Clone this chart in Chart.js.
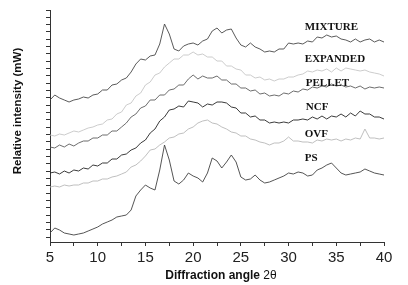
<!DOCTYPE html>
<html>
<head>
<meta charset="utf-8">
<script src="https://cdn.jsdelivr.net/npm/chart.js@4"></script>
<style>
  body { margin: 0; background: #fff; }
  canvas { display: block; }
</style>
</head>
<body>
<canvas id="xrd" width="408" height="285"></canvas>
<script>
// 2theta positions (degrees)
const angles = [
  5, 5.5, 6, 6.5, 7, 7.5, 8, 8.5, 9, 9.5,
  10, 10.5, 11, 11.5, 12, 12.5, 13, 13.5, 14, 14.5,
  15, 15.5, 16, 16.5, 17, 17.5, 18, 18.5, 19, 19.5,
  20, 20.5, 21, 21.5, 22, 22.5, 23, 23.5, 24, 24.5,
  25, 25.5, 26, 26.5, 27, 27.5, 28, 28.5, 29, 29.5,
  30, 30.5, 31, 31.5, 32, 32.5, 33, 33.5, 34, 34.5,
  35, 35.5, 36, 36.5, 37, 37.5, 38, 38.5, 39, 39.5,
  40
];

// stacked patterns (already offset, arbitrary units)
const mixture = [
  142, 147, 144, 142, 140, 142, 143, 145, 144, 147,
  148, 152, 152, 157, 158, 162, 164, 170, 178, 183,
  182, 186, 187, 198, 218, 208, 193, 191, 196, 198,
  199, 197, 201, 203, 211, 214, 209, 212, 213, 204,
  197, 195, 199, 195, 193, 190, 191, 190, 193, 193,
  199, 198, 199, 198, 201, 200, 205, 204, 207, 205,
  206, 203, 202, 200, 203, 200, 202, 203, 200, 202,
  200
];
const expanded = [
  107, 106, 108, 107, 109, 111, 110, 112, 114, 115,
  117, 118, 122, 123, 128, 130, 137, 139, 146, 149,
  157, 160, 167, 169, 175, 179, 183, 183, 187, 187,
  190, 187, 188, 185, 185, 181, 181, 176, 176, 173,
  172, 167, 167, 164, 165, 162, 163, 161, 163, 163,
  165, 165, 167, 168, 171, 170, 172, 171, 173, 170,
  174, 171, 174, 173, 172, 171, 172, 170, 169, 168,
  166
];
const pellet = [
  95, 94, 97, 95, 98, 96, 99, 101, 101, 104,
  104, 107, 107, 111, 111, 115, 119, 125, 128, 134,
  136, 142, 142, 147, 147, 152, 153, 157, 157, 163,
  167, 163, 166, 164, 164, 166, 162, 162, 158, 158,
  154, 154, 151, 152, 148, 149, 146, 147, 146, 149,
  148, 151, 150, 153, 152, 155, 154, 156, 155, 158,
  156, 157, 155, 156, 154, 156, 153, 155, 154, 155,
  154
];
const ncf = [
  69, 70, 68, 71, 69, 72, 71, 74, 73, 77,
  76, 79, 79, 83, 83, 87, 88, 92, 94, 99,
  102, 109, 113, 121, 125, 132, 133, 136, 135, 141,
  140, 139, 135, 138, 137, 140, 140, 139, 135, 134,
  129, 129, 125, 126, 122, 122, 119, 120, 119, 120,
  119, 122, 122, 123, 122, 125, 123, 126, 123, 126,
  125, 128, 125, 129, 126, 131, 128, 128, 125, 125,
  123
];
const ovf = [
  55, 56, 55, 57, 56, 57, 57, 59, 59, 61,
  61, 63, 63, 65, 66, 68, 70, 75, 77, 81,
  86, 92, 93, 97, 100, 104, 105, 108, 109, 113,
  115, 119, 121, 122, 119, 118, 115, 113, 110, 109,
  106, 106, 103, 102, 100, 99, 97, 99, 99, 101,
  105, 101, 101, 100, 100, 99, 102, 101, 103, 102,
  103, 101, 103, 102, 104, 103, 113, 104, 104, 103,
  104
];
const ps = [
  9, 14, 12, 9, 8, 7, 8, 9, 11, 13,
  15, 18, 20, 22, 25, 26, 27, 32, 46, 52,
  57, 54, 52, 72, 97, 82, 61, 58, 62, 69,
  66, 64, 60, 69, 84, 81, 74, 80, 87, 80,
  65, 62, 63, 67, 62, 59, 60, 62, 64, 66,
  69, 68, 70, 69, 66, 67, 72, 74, 77, 79,
  74, 69, 67, 68, 69, 70, 73, 71, 69, 68,
  67
];

const seriesNames = ['MIXTURE', 'EXPANDED', 'PELLET', 'NCF', 'OVF', 'PS'];
const seriesData = [mixture, expanded, pellet, ncf, ovf, ps];
const seriesColors = ['#474747', '#c6c6c6', '#5c5c5c', '#252525', '#b8b8b8', '#424242'];
// label anchor in data units: [angle, intensity]
const labelAt = [[31.7, 215], [31.7, 183], [31.8, 159], [31.8, 135], [31.7, 108], [31.7, 84]];

function toPoints(arr) {
  return arr.map((v, i) => ({ x: angles[i], y: v }));
}

const datasets = seriesData.map((arr, i) => ({
  label: seriesNames[i],
  data: toPoints(arr),
  borderColor: seriesColors[i],
  borderWidth: 0.9,
  pointRadius: 0,
  tension: 0,
  fill: false
}));

// axis titles and curve labels
const annotate = {
  id: 'annotate',
  afterDraw(chart) {
    const ctx = chart.ctx;
    const xs = chart.scales.x, ys = chart.scales.y;
    ctx.save();
    ctx.fillStyle = '#111';
    ctx.textBaseline = 'middle';

    // curve labels
    ctx.font = 'bold 11px "Liberation Serif", "Times New Roman", serif';
    ctx.textAlign = 'left';
    seriesNames.forEach((name, i) => {
      ctx.fillText(name, xs.getPixelForValue(labelAt[i][0]), ys.getPixelForValue(labelAt[i][1]));
    });

    // x title, "2θ" not bold
    const boldPart = 'Diffraction angle ';
    const plainPart = '2θ';
    ctx.font = 'bold 12px "Liberation Sans", Arial, sans-serif';
    const w1 = ctx.measureText(boldPart).width;
    ctx.font = '12px "Liberation Sans", Arial, sans-serif';
    const w2 = ctx.measureText(plainPart).width;
    const startX = 221 - (w1 + w2) / 2;
    ctx.textAlign = 'left';
    ctx.font = 'bold 12px "Liberation Sans", Arial, sans-serif';
    ctx.fillText(boldPart, startX, 276);
    ctx.font = '12px "Liberation Sans", Arial, sans-serif';
    ctx.fillText(plainPart, startX + w1, 276);

    // y title
    ctx.translate(18, 111);
    ctx.rotate(-Math.PI / 2);
    ctx.textAlign = 'center';
    ctx.font = 'bold 11.5px "Liberation Sans", Arial, sans-serif';
    ctx.fillText('Relative intensity (mW)', 0, 0);
    ctx.restore();
  }
};

new Chart(document.getElementById('xrd'), {
  type: 'line',
  data: { datasets: datasets },
  options: {
    responsive: false,
    animation: false,
    devicePixelRatio: 1,
    layout: { padding: { top: 10, right: 24, left: 0, bottom: 0 } },
    plugins: { legend: { display: false }, tooltip: { enabled: false } },
    scales: {
      x: {
        type: 'linear',
        min: 5,
        max: 40,
        afterFit: s => { s.height = 43; },
        border: { display: true, color: '#333', width: 1 },
        grid: { drawOnChartArea: false, drawTicks: true, tickLength: 4, color: '#333' },
        ticks: {
          stepSize: 2.5,
          autoSkip: false,
          maxRotation: 0,
          padding: 3,
          color: '#222',
          font: { family: '"Liberation Sans", Arial, sans-serif', size: 15 },
          callback: v => (v % 5 === 0 ? String(v) : '')
        }
      },
      y: {
        type: 'linear',
        min: 0,
        max: 232,
        afterFit: s => { s.width = 50; },
        afterBuildTicks: s => {
          const t = [];
          for (let k = 0; k < 32; k++) t.push({ value: 232 - k * 7.33 });
          s.ticks = t;
        },
        border: { display: true, color: '#333', width: 1 },
        grid: { drawOnChartArea: false, drawTicks: true, tickLength: 4, color: '#333' },
        ticks: { display: false }
      }
    }
  },
  plugins: [annotate]
});
</script>
</body>
</html>
